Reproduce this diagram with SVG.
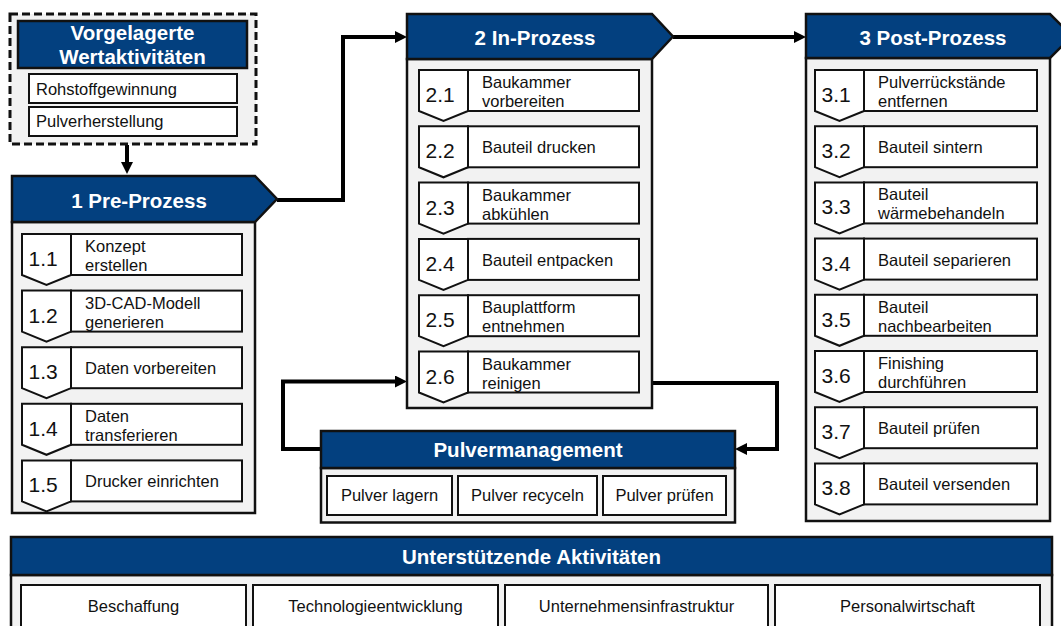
<svg xmlns="http://www.w3.org/2000/svg" width="1061" height="626" viewBox="0 0 1061 626">
<style>
.hdr{fill:#03407f;stroke:#111;stroke-width:2.5}
.body{fill:#f2f2f2;stroke:#111;stroke-width:2.5}
.box{fill:#fff;stroke:#111;stroke-width:2}
.ht{font-family:"Liberation Sans",Arial,sans-serif;font-weight:bold;font-size:20.5px;fill:#fff;text-anchor:middle}
.t{font-family:"Liberation Sans",Arial,sans-serif;font-size:16.5px;fill:#111}
.tc{font-family:"Liberation Sans",Arial,sans-serif;font-size:16.5px;fill:#111;text-anchor:middle}
.n{font-family:"Liberation Sans",Arial,sans-serif;font-size:21px;fill:#111}
.conn{fill:none;stroke:#000;stroke-width:4;marker-end:url(#arr)}
</style>
<defs>
<marker id="arr" markerUnits="userSpaceOnUse" markerWidth="12" markerHeight="12" refX="2" refY="6" orient="auto">
<path d="M0,0 L12,6 L0,12 Z" fill="#000"/>
</marker>
<path id="chev" d="M0,0 H49 V41 L24.5,51 L0,41 Z"/>
</defs>

<g id="connectors">
<path class="conn" d="M127,145 V164"/>
<path class="conn" d="M277,200 H343 V37 H397"/>
<path class="conn" d="M673,37 H796"/>
<path class="conn" d="M321,449 H283 V381.5 H397"/>
<path class="conn" d="M652,383 H777 V449 H745"/>
</g>

<g id="vorgelagert">
<rect x="10" y="14" width="246" height="130" fill="#f2f2f2" stroke="#111" stroke-width="3" stroke-dasharray="8,4"/>
<rect class="hdr" x="18" y="21" width="229" height="47"/>
<text class="ht" x="132.5" y="40">Vorgelagerte</text>
<text class="ht" x="132.5" y="64">Wertaktivitäten</text>
<rect class="box" x="29" y="74" width="208" height="29"/>
<text class="t" x="36" y="94.5">Rohstoffgewinnung</text>
<rect class="box" x="29" y="107" width="208" height="29"/>
<text class="t" x="36" y="127">Pulverherstellung</text>
</g>

<g id="pre">
<rect class="body" x="12" y="222" width="243" height="291"/>
<path class="hdr" d="M12,176 H255 L277,199 L255,222 H12 Z"/>
<text class="ht" x="139" y="207.5">1 Pre-Prozess</text>
<g id="p1-1" transform="translate(22,234)"><use href="#chev" class="box"/><rect class="box" x="49" y="0" width="171" height="41"/><text class="n" x="6.5" y="32">1.1</text><text class="t" x="63" y="18">Konzept</text><text class="t" x="63" y="37">erstellen</text></g>
<g id="p1-2" transform="translate(22,290.6)"><use href="#chev" class="box"/><rect class="box" x="49" y="0" width="171" height="41"/><text class="n" x="6.5" y="32">1.2</text><text class="t" x="63" y="18">3D-CAD-Modell</text><text class="t" x="63" y="37">generieren</text></g>
<g id="p1-3" transform="translate(22,347.2)"><use href="#chev" class="box"/><rect class="box" x="49" y="0" width="171" height="41"/><text class="n" x="6.5" y="32">1.3</text><text class="t" x="63" y="27">Daten vorbereiten</text></g>
<g id="p1-4" transform="translate(22,403.8)"><use href="#chev" class="box"/><rect class="box" x="49" y="0" width="171" height="41"/><text class="n" x="6.5" y="32">1.4</text><text class="t" x="63" y="18">Daten</text><text class="t" x="63" y="37">transferieren</text></g>
<g id="p1-5" transform="translate(22,460.4)"><use href="#chev" class="box"/><rect class="box" x="49" y="0" width="171" height="41"/><text class="n" x="6.5" y="32">1.5</text><text class="t" x="63" y="27">Drucker einrichten</text></g>
</g>

<g id="in">
<rect class="body" x="407" y="59" width="245" height="349"/>
<path class="hdr" d="M407,14 H652 L673,36.5 L652,59 H407 Z"/>
<text class="ht" x="535" y="45">2 In-Prozess</text>
<g id="p2-1" transform="translate(419,70)"><use href="#chev" class="box"/><rect class="box" x="49" y="0" width="171" height="41"/><text class="n" x="6.5" y="32">2.1</text><text class="t" x="63" y="18">Baukammer</text><text class="t" x="63" y="37">vorbereiten</text></g>
<g id="p2-2" transform="translate(419,126.3)"><use href="#chev" class="box"/><rect class="box" x="49" y="0" width="171" height="41"/><text class="n" x="6.5" y="32">2.2</text><text class="t" x="63" y="27">Bauteil drucken</text></g>
<g id="p2-3" transform="translate(419,182.6)"><use href="#chev" class="box"/><rect class="box" x="49" y="0" width="171" height="41"/><text class="n" x="6.5" y="32">2.3</text><text class="t" x="63" y="18">Baukammer</text><text class="t" x="63" y="37">abkühlen</text></g>
<g id="p2-4" transform="translate(419,238.9)"><use href="#chev" class="box"/><rect class="box" x="49" y="0" width="171" height="41"/><text class="n" x="6.5" y="32">2.4</text><text class="t" x="63" y="27">Bauteil entpacken</text></g>
<g id="p2-5" transform="translate(419,295.2)"><use href="#chev" class="box"/><rect class="box" x="49" y="0" width="171" height="41"/><text class="n" x="6.5" y="32">2.5</text><text class="t" x="63" y="18">Bauplattform</text><text class="t" x="63" y="37">entnehmen</text></g>
<g id="p2-6" transform="translate(419,351.5)"><use href="#chev" class="box"/><rect class="box" x="49" y="0" width="171" height="41"/><text class="n" x="6.5" y="32">2.6</text><text class="t" x="63" y="18">Baukammer</text><text class="t" x="63" y="37">reinigen</text></g>
</g>

<g id="post">
<rect class="body" x="806" y="58" width="244" height="463"/>
<path class="hdr" d="M806,14 H1050 L1072,36 L1050,58 H806 Z"/>
<text class="ht" x="933" y="45">3 Post-Prozess</text>
<g id="p3-1" transform="translate(815,70)"><use href="#chev" class="box"/><rect class="box" x="49" y="0" width="173" height="41"/><text class="n" x="6.5" y="32">3.1</text><text class="t" x="63" y="18">Pulverrückstände</text><text class="t" x="63" y="37">entfernen</text></g>
<g id="p3-2" transform="translate(815,126.2)"><use href="#chev" class="box"/><rect class="box" x="49" y="0" width="173" height="41"/><text class="n" x="6.5" y="32">3.2</text><text class="t" x="63" y="27">Bauteil sintern</text></g>
<g id="p3-3" transform="translate(815,182.4)"><use href="#chev" class="box"/><rect class="box" x="49" y="0" width="173" height="41"/><text class="n" x="6.5" y="32">3.3</text><text class="t" x="63" y="18">Bauteil</text><text class="t" x="63" y="37">wärmebehandeln</text></g>
<g id="p3-4" transform="translate(815,238.6)"><use href="#chev" class="box"/><rect class="box" x="49" y="0" width="173" height="41"/><text class="n" x="6.5" y="32">3.4</text><text class="t" x="63" y="27">Bauteil separieren</text></g>
<g id="p3-5" transform="translate(815,294.8)"><use href="#chev" class="box"/><rect class="box" x="49" y="0" width="173" height="41"/><text class="n" x="6.5" y="32">3.5</text><text class="t" x="63" y="18">Bauteil</text><text class="t" x="63" y="37">nachbearbeiten</text></g>
<g id="p3-6" transform="translate(815,351)"><use href="#chev" class="box"/><rect class="box" x="49" y="0" width="173" height="41"/><text class="n" x="6.5" y="32">3.6</text><text class="t" x="63" y="18">Finishing</text><text class="t" x="63" y="37">durchführen</text></g>
<g id="p3-7" transform="translate(815,407.2)"><use href="#chev" class="box"/><rect class="box" x="49" y="0" width="173" height="41"/><text class="n" x="6.5" y="32">3.7</text><text class="t" x="63" y="27">Bauteil prüfen</text></g>
<g id="p3-8" transform="translate(815,463.4)"><use href="#chev" class="box"/><rect class="box" x="49" y="0" width="173" height="41"/><text class="n" x="6.5" y="32">3.8</text><text class="t" x="63" y="27">Bauteil versenden</text></g>
</g>

<g id="pulvermanagement">
<rect class="body" x="321" y="468" width="414" height="54.5"/>
<rect class="hdr" x="321" y="431" width="414" height="37"/>
<text class="ht" x="528" y="457">Pulvermanagement</text>
<rect class="box" x="327" y="476" width="125" height="39"/>
<text class="tc" x="389.5" y="501">Pulver lagern</text>
<rect class="box" x="458" y="476" width="139" height="39"/>
<text class="tc" x="527.5" y="501">Pulver recyceln</text>
<rect class="box" x="603" y="476" width="123" height="39"/>
<text class="tc" x="664.5" y="501">Pulver prüfen</text>
</g>

<g id="support">
<rect class="body" x="11" y="575" width="1041" height="60"/>
<rect class="hdr" x="11" y="537" width="1041" height="38"/>
<text class="ht" x="531.5" y="563.5">Unterstützende Aktivitäten</text>
<rect class="box" x="21" y="585" width="225" height="50"/>
<text class="tc" x="133.5" y="612">Beschaffung</text>
<rect class="box" x="253" y="585" width="245" height="50"/>
<text class="tc" x="375.5" y="612">Technologieentwicklung</text>
<rect class="box" x="505" y="585" width="263" height="50"/>
<text class="tc" x="636.5" y="612">Unternehmensinfrastruktur</text>
<rect class="box" x="775" y="585" width="265" height="50"/>
<text class="tc" x="907.5" y="612">Personalwirtschaft</text>
</g>
</svg>
